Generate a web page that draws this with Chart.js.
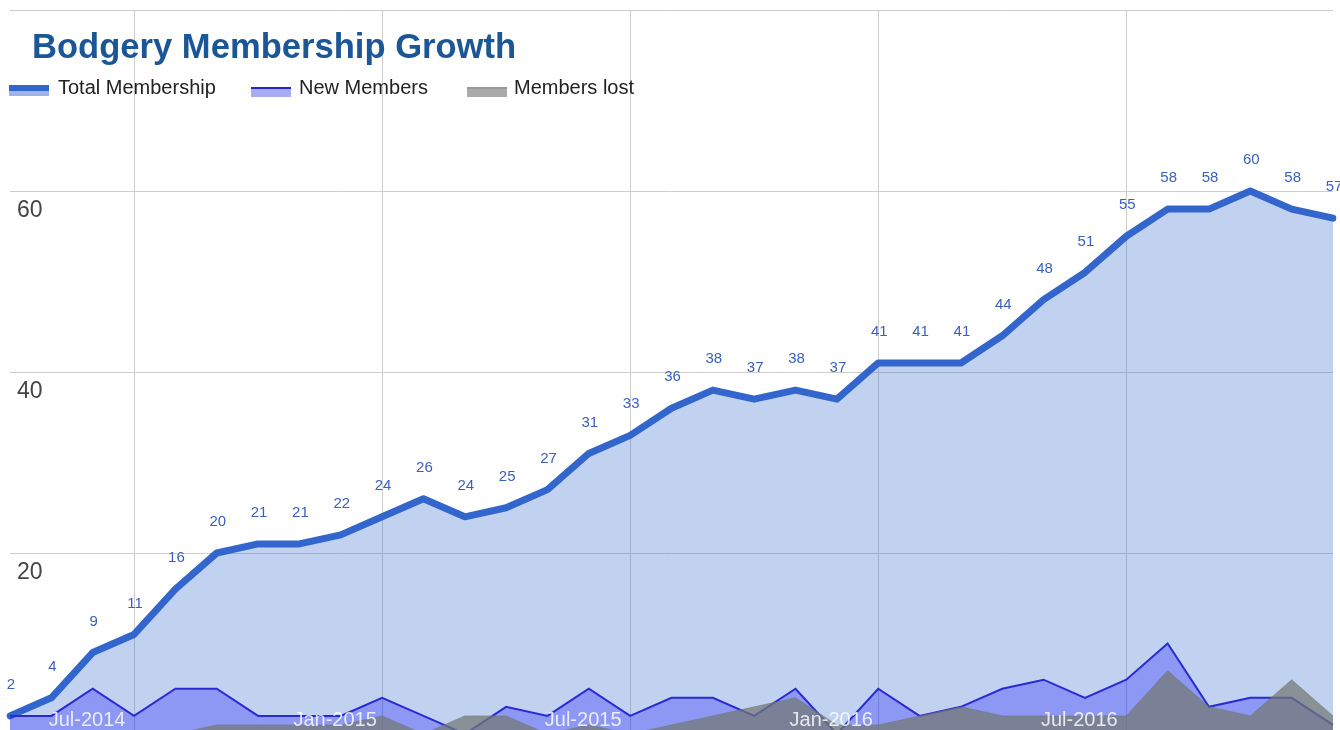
<!DOCTYPE html>
<html>
<head>
<meta charset="utf-8">
<script src="https://cdn.jsdelivr.net/npm/chart.js@4.4.1/dist/chart.umd.min.js"></script>
<style>
html,body{margin:0;padding:0;width:1340px;height:730px;overflow:hidden;background:#fff;font-family:"Liberation Sans",Arial,sans-serif;}
#wrap{position:relative;width:1340px;height:760px;}
#title{position:absolute;left:32px;top:29px;font-size:34.6px;line-height:34px;font-weight:bold;color:#1b5796;white-space:nowrap;}
.leg{position:absolute;top:77px;font-size:20px;line-height:20px;color:#222;white-space:nowrap;}
.sw{position:absolute;width:40px;box-sizing:border-box;}
</style>
</head>
<body>
<div id="wrap">
  <canvas id="c"></canvas>
  <div id="title">Bodgery Membership Growth</div>
  <div class="sw" style="left:9px;top:85px;height:11px;border-top:6px solid #3366cc;background:#9fb4e6;"></div>
  <div class="leg" style="left:58px;">Total Membership</div>
  <div class="sw" style="left:251px;top:87px;height:10px;border-top:2px solid #2727c8;background:#a9acf5;"></div>
  <div class="leg" style="left:299px;">New Members</div>
  <div class="sw" style="left:467px;top:87px;height:10px;border-top:2px solid #999;background:#aaa;"></div>
  <div class="leg" style="left:514px;">Members lost</div>
</div>
<script>
const categories = ["Apr-2014","May-2014","Jun-2014","Jul-2014","Aug-2014","Sep-2014","Oct-2014","Nov-2014","Dec-2014",
  "Jan-2015","Feb-2015","Mar-2015","Apr-2015","May-2015","Jun-2015","Jul-2015","Aug-2015","Sep-2015","Oct-2015","Nov-2015","Dec-2015",
  "Jan-2016","Feb-2016","Mar-2016","Apr-2016","May-2016","Jun-2016","Jul-2016","Aug-2016","Sep-2016","Oct-2016","Nov-2016","Dec-2016"];
const totalMembership = [2,4,9,11,16,20,21,21,22,24,26,24,25,27,31,33,36,38,37,38,37,41,41,41,44,48,51,55,58,58,60,58,57];
const newMembers = [2,2,5,2,5,5,2,2,2,4,2,0,3,2,5,2,4,4,2,5,0,5,2,3,5,6,4,6,10,3,4,4,1];
const membersLost = [0,0,0,0,0,1,1,1,1,2,0,2,2,0,1,0,1,2,3,4,1,1,2,3,2,2,2,2,7,3,2,6,2];
const yTicks = [20,40,60];

const FONT = '"Liberation Sans", Arial, sans-serif';
Chart.defaults.font.family = FONT;
const isJanJul = i => /^(Jan|Jul)/.test(categories[i] || '');

const valueLabels = {
  id: 'valueLabels',
  afterDatasetsDraw(chart) {
    const meta = chart.getDatasetMeta(0);
    const ctx = chart.ctx;
    ctx.save();
    ctx.font = '15px ' + FONT;
    ctx.fillStyle = '#3a5fbe';
    ctx.textAlign = 'center';
    ctx.textBaseline = 'middle';
    meta.data.forEach((pt, i) => {
      ctx.fillText(String(totalMembership[i]), pt.x + 1, pt.y - 31);
    });
    ctx.restore();
  }
};

new Chart(document.getElementById('c'), {
  type: 'line',
  data: {
    labels: categories,
    datasets: [
      { label: 'Total Membership', data: totalMembership, borderColor: '#3366cc', backgroundColor: 'rgba(51,102,204,0.3)',
        borderWidth: 7, fill: 'origin', pointRadius: 0, tension: 0, order: 3, borderJoinStyle: 'round', borderCapStyle: 'round' },
      { label: 'New Members', data: newMembers, borderColor: '#2a2ad2', backgroundColor: 'rgba(20,20,255,0.3)',
        borderWidth: 2, fill: 'origin', pointRadius: 0, tension: 0, order: 2 },
      { label: 'Members lost', data: membersLost, borderColor: 'rgba(110,115,110,0.5)', backgroundColor: 'rgba(115,120,115,0.72)',
        borderWidth: 1, fill: 'origin', pointRadius: 0, tension: 0, order: 1 }
    ]
  },
  options: {
    responsive: true,
    maintainAspectRatio: false,
    animation: false,
    layout: { padding: { left: 10, top: 10, right: 7, bottom: 26 } },
    plugins: { legend: { display: false }, title: { display: false }, tooltip: { enabled: false } },
    scales: {
      x: {
        grid: { color: c => isJanJul(c.index) ? '#cdcdcd' : 'rgba(0,0,0,0)', drawTicks: false, lineWidth: 1 },
        border: { display: false },
        ticks: { autoSkip: false, maxRotation: 0, minRotation: 0, mirror: true, padding: 2, labelOffset: -47, z: 1,
          color: 'rgba(255,255,255,0.82)', font: { size: 20, lineHeight: 1.2 },
          callback: (v, i) => isJanJul(i) ? categories[i] : '' },
        afterFit: s => { s.height = 0; s.paddingLeft = 0; s.paddingRight = 0; }
      },
      y: {
        min: 0, max: 80,
        grid: { color: '#cdcdcd', drawTicks: false, lineWidth: 1 },
        border: { display: false },
        ticks: { stepSize: 20, mirror: true, padding: 7, labelOffset: 20, z: 1, color: '#444', font: { size: 23 },
          callback: v => yTicks.includes(v) ? String(v) : '' },
        afterFit: s => { s.width = 0; s.paddingTop = 0; s.paddingBottom = 0; }
      }
    }
  },
  plugins: [valueLabels]
});
</script>
</body>
</html>
